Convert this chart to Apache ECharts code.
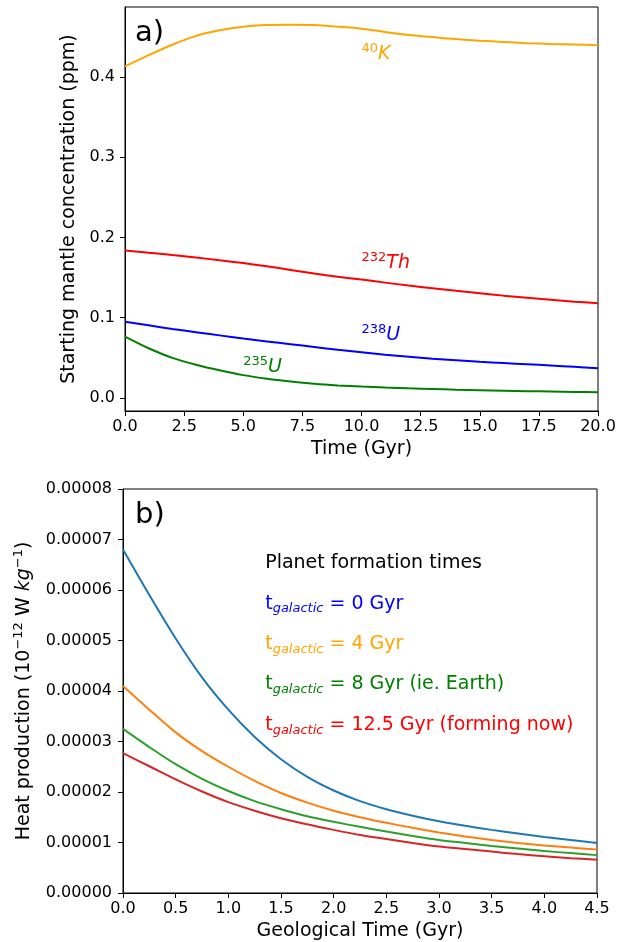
<!DOCTYPE html>
<html>
<head>
<meta charset="utf-8">
<script src="https://cdn.jsdelivr.net/npm/echarts@6/dist/echarts.min.js"></script>
<style>
  html, body { margin: 0; padding: 0; background: #fff; }
  #chart { width: 622px; height: 942px; }
</style>
</head>
<body>
<div id="chart"></div>
<script>
// panel a) starting mantle concentration (ppm) vs time (Gyr)
const TIME = [0, 1, 2, 3, 4, 5, 6, 7, 8, 9, 10, 11, 12, 13, 14, 15, 16, 17, 18, 19, 20];
const K40 = [0.413, 0.427, 0.440, 0.451, 0.458, 0.4625, 0.4645, 0.465, 0.4645, 0.4625, 0.460,
  0.456, 0.452, 0.4495, 0.447, 0.445, 0.4435, 0.442, 0.441, 0.4403, 0.4395];
const TH232 = [0.1836, 0.181, 0.178, 0.175, 0.1715, 0.168, 0.164, 0.1595, 0.155, 0.151, 0.1475,
  0.1437, 0.140, 0.1367, 0.1335, 0.1305, 0.1275, 0.125, 0.1225, 0.120, 0.118];
const U238 = [0.095, 0.0905, 0.086, 0.082, 0.078, 0.074, 0.0705, 0.067, 0.0635, 0.060, 0.057,
  0.054, 0.0515, 0.049, 0.047, 0.045, 0.0435, 0.042, 0.0405, 0.0388, 0.037];
const U235 = [0.0765, 0.062, 0.050, 0.0415, 0.0345, 0.0285, 0.024, 0.0205, 0.0177, 0.0157, 0.0142,
  0.013, 0.012, 0.0112, 0.0104, 0.0097, 0.0091, 0.0085, 0.008, 0.0075, 0.0071];
const Y_TICKS_A = [0, 0.1, 0.2, 0.3, 0.4];
// isotope labels: [x, y, superscript, symbol, colour]
const ISOTOPE_LABELS = [
  [10, 0.42, '40', 'K', '#ffa500'],
  [10, 0.16, '232', 'Th', '#ff0000'],
  [10, 0.07, '238', 'U', '#0000ff'],
  [5, 0.03, '235', 'U', '#008000']
];

// panel b) heat production (units of 1e-5 on the axis labels) vs geological time
const GEO_TIME = [0, 0.25, 0.5, 0.75, 1, 1.25, 1.5, 1.75, 2, 2.25, 2.5, 2.75, 3, 3.25, 3.5, 3.75, 4, 4.25, 4.5];
const HP_T0 = [6.80, 5.90, 5.04, 4.27, 3.63, 3.09, 2.65, 2.30, 2.03, 1.82, 1.66, 1.53, 1.42, 1.33, 1.25, 1.18, 1.11, 1.05, 0.99];
const HP_T4 = [4.10, 3.63, 3.18, 2.81, 2.50, 2.22, 1.98, 1.79, 1.63, 1.50, 1.39, 1.29, 1.20, 1.12, 1.05, 0.99, 0.94, 0.90, 0.86];
const HP_T8 = [3.25, 2.89, 2.55, 2.26, 2.02, 1.82, 1.66, 1.52, 1.41, 1.31, 1.22, 1.13, 1.05, 0.99, 0.93, 0.88, 0.83, 0.79, 0.75];
const HP_T125 = [2.77, 2.51, 2.25, 2.01, 1.80, 1.63, 1.48, 1.36, 1.25, 1.15, 1.07, 0.99, 0.92, 0.87, 0.82, 0.77, 0.73, 0.69, 0.66];
// legend text block: [x, y, text after subscript, colour]
const FORMATION_LABELS = [
  [1.35, 5.6, ' = 0 Gyr', '#0000ff'],
  [1.35, 4.8, ' = 4 Gyr', '#ffa500'],
  [1.35, 4.0, ' = 8 Gyr (ie. Earth)', '#008000'],
  [1.35, 3.2, ' = 12.5 Gyr (forming now)', '#ff0000']
];
const FORMATION_TITLE = [1.35, 6.4, 'Planet formation times'];

const FONT = 'DejaVu Sans';
const chart = echarts.init(document.getElementById('chart'));

function zip(xs, ys) {
  return xs.map((x, i) => [x, ys[i]]);
}

function lineSeries(xi, data, color) {
  return {
    type: 'line',
    xAxisIndex: xi,
    yAxisIndex: xi,
    data: data,
    showSymbol: false,
    smooth: 0.3,
    silent: true,
    lineStyle: { color: color, width: 2 },
    z: 3
  };
}

function xAxisOf(gi, min, max, step, name) {
  return {
    gridIndex: gi,
    type: 'value',
    min: min,
    max: max,
    interval: step,
    name: name,
    nameLocation: 'middle',
    nameGap: 29,
    nameTextStyle: { fontFamily: FONT, fontSize: 19, color: '#000' },
    axisLine: { onZero: false, lineStyle: { color: '#000', width: 1 } },
    axisTick: { inside: false, length: 5, lineStyle: { color: '#000' } },
    axisLabel: { fontFamily: FONT, fontSize: 16, color: '#000', margin: 8,
      formatter: v => v.toFixed(1) },
    splitLine: { show: false }
  };
}

// anchor labels: baseline sits on the data point
const labelBase = { show: true, position: 'right', distance: 0, offset: [0, -6.6] };

const isotopeItems = ISOTOPE_LABELS.map(([x, y, sup, sym, c]) => ({
  value: [x, y],
  label: Object.assign({}, labelBase, {
    formatter: '{sup|' + sup + '}{it|' + sym + '}',
    rich: {
      sup: { fontFamily: FONT, fontSize: 13, lineHeight: 13, verticalAlign: 'top', color: c },
      it: { fontFamily: FONT, fontSize: 19, lineHeight: 24, fontStyle: 'italic', color: c }
    }
  })
}));

const formationItems = [{
  value: [FORMATION_TITLE[0], FORMATION_TITLE[1]],
  label: Object.assign({}, labelBase, {
    formatter: '{m|' + FORMATION_TITLE[2] + '}',
    rich: { m: { fontFamily: FONT, fontSize: 19, lineHeight: 24, color: '#000' } }
  })
}].concat(FORMATION_LABELS.map(([x, y, txt, c]) => ({
  value: [x, y],
  label: Object.assign({}, labelBase, {
    formatter: '{m|t}{sub|galactic}{m|' + txt + '}',
    rich: {
      m: { fontFamily: FONT, fontSize: 19, lineHeight: 24, color: c },
      sub: { fontFamily: FONT, fontSize: 13, lineHeight: 13, verticalAlign: 'bottom', fontStyle: 'italic', color: c }
    }
  })
})));

function textSeries(gi, items) {
  return {
    type: 'scatter',
    xAxisIndex: gi,
    yAxisIndex: gi,
    symbolSize: 0,
    silent: true,
    itemStyle: { opacity: 1, color: 'transparent' },
    data: items,
    z: 5
  };
}

const option = {
  animation: false,
  backgroundColor: '#fff',
  textStyle: { fontFamily: FONT },
  title: [
    { text: 'a)', left: 130, top: 14, textStyle: { fontFamily: FONT, fontSize: 29, fontWeight: 'normal', color: '#000' } },
    { text: 'b)', left: 130, top: 496, textStyle: { fontFamily: FONT, fontSize: 29, fontWeight: 'normal', color: '#000' } }
  ],
  grid: [
    { left: 125, right: 24, top: 7, height: 404, show: true, borderColor: '#000', borderWidth: 1 },
    { left: 123, right: 25, top: 489, height: 404, show: true, borderColor: '#000', borderWidth: 1 }
  ],
  xAxis: [
    xAxisOf(0, 0, 20, 2.5, 'Time (Gyr)'),
    xAxisOf(1, 0, 4.5, 0.5, 'Geological Time (Gyr)')
  ],
  yAxis: [
    {
      gridIndex: 0,
      type: 'value',
      min: -0.0162,
      max: 0.487,
      name: 'Starting mantle concentration (ppm)',
      nameLocation: 'middle',
      nameGap: 42,
      nameTextStyle: { fontFamily: FONT, fontSize: 19, color: '#000' },
      axisLine: { show: true, onZero: false, lineStyle: { color: '#000', width: 1 } },
      axisTick: { show: true, inside: false, length: 5, customValues: Y_TICKS_A, lineStyle: { color: '#000' } },
      axisLabel: { fontFamily: FONT, fontSize: 16, color: '#000', margin: 10,
        customValues: Y_TICKS_A, formatter: v => v.toFixed(1) },
      splitLine: { show: false }
    },
    {
      gridIndex: 1,
      type: 'value',
      min: 0,
      max: 8,
      interval: 1,
      name: '{n|Heat production (10}{sup|−12}{n| W }{it|kg}{sup|−1}{n|)}',
      nameLocation: 'middle',
      nameGap: 87,
      nameTextStyle: {
        fontFamily: FONT, fontSize: 19, color: '#000',
        rich: {
          n: { fontFamily: FONT, fontSize: 19, lineHeight: 24, color: '#000' },
          it: { fontFamily: FONT, fontSize: 19, lineHeight: 24, fontStyle: 'italic', color: '#000' },
          sup: { fontFamily: FONT, fontSize: 13, lineHeight: 13, verticalAlign: 'top', color: '#000' }
        }
      },
      axisLine: { show: true, onZero: false, lineStyle: { color: '#000', width: 1 } },
      axisTick: { show: true, inside: false, length: 5, lineStyle: { color: '#000' } },
      axisLabel: { fontFamily: FONT, fontSize: 16, color: '#000', margin: 11,
        formatter: v => (v / 100000).toFixed(5) },
      splitLine: { show: false }
    }
  ],
  series: [
    lineSeries(0, zip(TIME, K40), '#ffa500'),
    lineSeries(0, zip(TIME, TH232), '#ff0000'),
    lineSeries(0, zip(TIME, U238), '#0000ff'),
    lineSeries(0, zip(TIME, U235), '#008000'),
    lineSeries(1, zip(GEO_TIME, HP_T0), '#1f77b4'),
    lineSeries(1, zip(GEO_TIME, HP_T4), '#ff7f0e'),
    lineSeries(1, zip(GEO_TIME, HP_T8), '#2ca02c'),
    lineSeries(1, zip(GEO_TIME, HP_T125), '#d62728'),
    textSeries(0, isotopeItems),
    textSeries(1, formationItems)
  ]
};

chart.setOption(option);
</script>
</body>
</html>
